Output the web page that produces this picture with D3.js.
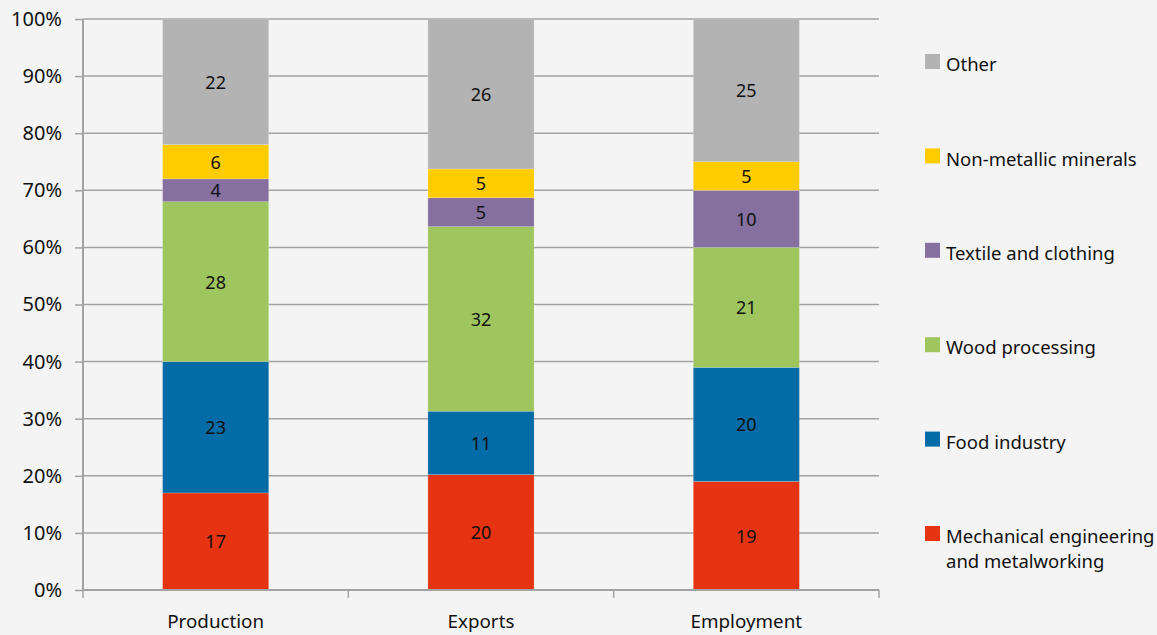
<!DOCTYPE html>
<html>
<head>
<meta charset="utf-8">
<script src="https://cdn.jsdelivr.net/npm/d3@7"></script>
<style>
  body { margin: 0; background: #f4f4f4; }
  svg { display: block; font-family: "Noto Sans", "Open Sans", sans-serif; }
</style>
</head>
<body>
<svg></svg>
<script>
let categories = ["Production", "Exports", "Employment"];
let sectors = ["Mechanical engineering and metalworking", "Food industry", "Wood processing",
  "Textile and clothing", "Non-metallic minerals", "Other"];
let mechanical = [17, 20, 19];
let food = [23, 11, 20];
let wood = [28, 32, 21];
let textile = [4, 5, 10];
let minerals = [6, 5, 5];
let other = [22, 26, 25];
let yTicks = [0, 0.1, 0.2, 0.3, 0.4, 0.5, 0.6, 0.7, 0.8, 0.9, 1];
let colors = ["#e63312", "#036ba5", "#9fc65e", "#8570a0", "#ffcc00", "#b3b3b3"];

let w = 1157;
let h = 635;
let plotLeft = 83, plotRight = 879, plotTop = 19, plotBottom = 590;

let series = [mechanical, food, wood, textile, minerals, other];
let rows = categories.map((c, i) => {
  let r = { cat: c };
  sectors.forEach((s, j) => (r[s] = series[j][i]));
  return r;
});

let svg = d3.select("svg").attr("width", w).attr("height", h);

let xScale = d3.scaleBand().domain(categories).range([plotLeft, plotRight])
  .paddingInner(0.6).paddingOuter(0.3);
let yScale = d3.scaleLinear().domain([0, 1]).range([plotBottom, plotTop]);

// gridlines
svg.append("g")
  .selectAll("line")
  .data(yTicks.slice(1))
  .enter()
  .append("line")
  .attr("x1", plotLeft).attr("x2", plotRight)
  .attr("y1", (d) => yScale(d)).attr("y2", (d) => yScale(d))
  .attr("stroke", "#a3a3a3").attr("stroke-width", 1.5);

let stack = d3.stack().keys(sectors).offset(d3.stackOffsetExpand);
let stacked = stack(rows);

let layer = svg.selectAll(".layer")
  .data(stacked)
  .enter()
  .append("g")
  .attr("class", "layer")
  .attr("fill", (d, i) => colors[i]);

layer.selectAll("rect")
  .data((d) => d)
  .enter()
  .append("rect")
  .attr("x", (d) => xScale(d.data.cat))
  .attr("width", xScale.bandwidth())
  .attr("y", (d) => yScale(d[1]))
  .attr("height", (d) => yScale(d[0]) - yScale(d[1]))
  .attr("stroke", "#f4f4f4").attr("stroke-opacity", 0.35).attr("stroke-width", 0.6);

layer.selectAll("text")
  .data((d) => d.map((v) => ({ v: v, key: d.key })))
  .enter()
  .append("text")
  .attr("x", (d) => xScale(d.v.data.cat) + xScale.bandwidth() / 2)
  .attr("y", (d) => (yScale(d.v[0]) + yScale(d.v[1])) / 2)
  .attr("dy", "0.38em")
  .attr("text-anchor", "middle")
  .attr("fill", "#111")
  .style("font-size", "18px")
  .text((d) => d.v.data[d.key]);

// y axis
let yAxis = d3.axisLeft(yScale).tickValues(yTicks).tickFormat(d3.format(".0%"))
  .tickSize(8).tickPadding(13);
let gy = svg.append("g").attr("transform", `translate(${plotLeft},0)`).call(yAxis);
gy.select(".domain").attr("stroke", "#a3a3a3").attr("stroke-width", 2).attr("d", `M0,${plotTop}V${plotBottom}`);
gy.selectAll(".tick line").attr("stroke", "#a3a3a3").attr("stroke-width", 1.5);
gy.selectAll(".tick text").style("font-size", "20px").attr("fill", "#111")
  .style("font-family", "\"Noto Sans\", sans-serif");

// x axis
let gx = svg.append("g").attr("transform", `translate(0,${plotBottom})`);
gx.append("line").attr("x1", plotLeft).attr("x2", plotRight).attr("stroke", "#a3a3a3").attr("stroke-width", 2);
let step = xScale.step();
gx.selectAll(".xt")
  .data(d3.range(categories.length + 1))
  .enter()
  .append("line")
  .attr("class", "xt")
  .attr("x1", (d) => plotLeft + d * step).attr("x2", (d) => plotLeft + d * step)
  .attr("y1", 0).attr("y2", 8)
  .attr("stroke", "#a3a3a3").attr("stroke-width", 1.5);
gx.selectAll("text")
  .data(categories)
  .enter()
  .append("text")
  .attr("x", (d) => xScale(d) + xScale.bandwidth() / 2)
  .attr("y", 38)
  .attr("text-anchor", "middle")
  .attr("fill", "#111")
  .style("font-size", "18.8px")
  .text((d) => d);

// legend
let legendY = d3.scalePoint().domain(sectors.slice().reverse()).range([61.5, 533.5]);
let legend = svg.append("g").selectAll("g")
  .data(sectors)
  .enter()
  .append("g")
  .attr("transform", (d) => `translate(925,${legendY(d)})`);
legend.append("rect")
  .attr("x", 0).attr("y", -7.5).attr("width", 15).attr("height", 15)
  .attr("fill", (d, i) => colors[i]);
legend.append("text")
  .attr("x", 21).attr("y", 3)
  .attr("fill", "#111")
  .style("font-size", "18.5px")
  .each(function (d) {
    let t = d3.select(this);
    let lines = d === sectors[0] ? ["Mechanical engineering", "and metalworking"] : [d];
    lines.forEach((l, k) => {
      t.append("tspan").attr("x", 21).attr("dy", k === 0 ? "0.36em" : "25px").text(l);
    });
  });
</script>
</body>
</html>
